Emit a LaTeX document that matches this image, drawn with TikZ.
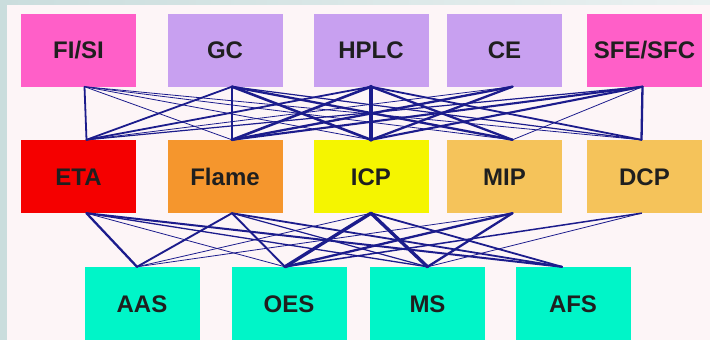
\documentclass[tikz,border=0pt]{standalone}
\usepackage{fontspec}
\setmainfont{Liberation Sans}
\usepackage{xcolor}
\definecolor{pinkbox}{HTML}{FF5FC8}
\definecolor{lavbox}{HTML}{C8A0F0}
\definecolor{redbox}{HTML}{F50000}
\definecolor{orangebox}{HTML}{F5962D}
\definecolor{yellowbox}{HTML}{F5F500}
\definecolor{tanbox}{HTML}{F5C35A}
\definecolor{tealbox}{HTML}{00F5C8}
\definecolor{linkblue}{HTML}{1C1C8C}
\definecolor{panel}{HTML}{FDF5F7}
\definecolor{frameleft}{HTML}{CADDDD}
\definecolor{frameright}{HTML}{EAF1F1}
\usetikzlibrary{positioning,calc}

\begin{document}
\begin{tikzpicture}[x=1pt, y=-1pt,
	box/.style={minimum width=115pt, minimum height=73pt, inner sep=0pt,
		text height=17pt, text depth=0pt,
		font=\fontsize{24}{28}\selectfont\bfseries, text=black!88},
	link/.style={draw=linkblue, line cap=round, line join=round}]
	\clip (0,0) rectangle (710,340);
	\shade[left color=frameleft, right color=frameright] (0,0) rectangle (710,340);
	\fill[panel] (7,5) rectangle (710,340);
	% separation techniques
	\node[box, fill=pinkbox] (fisi) at (78.5,50) {FI/SI};
	\node[box, fill=lavbox] (gc) at (225,50) {GC};
	\node[box, fill=lavbox] (hplc) at (371,50) {HPLC};
	\node[box, fill=lavbox] (ce) at (504.5,50) {CE};
	\node[box, fill=pinkbox] (sfe) at (644.5,50) {SFE/SFC};
	% atomisation / excitation sources
	\node[box, fill=redbox] (eta) at (78.5,176.5) {ETA};
	\node[box, fill=orangebox] (flame) at (225,176.5) {Flame};
	\node[box, fill=yellowbox] (icp) at (371,176.5) {ICP};
	\node[box, fill=tanbox] (mip) at (504.5,176.5) {MIP};
	\node[box, fill=tanbox] (dcp) at (644.5,176.5) {DCP};
	% detectors
	\node[box, fill=tealbox] (aas) at (142,303.5) {AAS};
	\node[box, fill=tealbox] (oes) at (289,303.5) {OES};
	\node[box, fill=tealbox] (ms) at (427.5,303.5) {MS};
	\node[box, fill=tealbox] (afs) at (573,303.5) {AFS};
	% where the links meet the boxes
	\foreach \n/\d in {fisi/6,gc/7,hplc/0,ce/8,sfe/-2}
		\coordinate (\n-s) at ([xshift=\d pt]\n.south);
	\foreach \n/\d in {eta/8,flame/7,icp/0,mip/8,dcp/-3} {
		\coordinate (\n-n) at ([xshift=\d pt]\n.north);
		\coordinate (\n-s) at ([xshift=\d pt]\n.south);
	}
	\foreach \n/\d in {aas/-5,oes/-4,ms/0,afs/-11}
		\coordinate (\n-n) at ([xshift=\d pt]\n.north);
	% hyphenated combinations, line width ~ how common
	\foreach \a/\b/\w in {fisi/eta/1.8, fisi/flame/0.8, fisi/icp/0.8, fisi/mip/0.8, fisi/dcp/0.8,
		gc/eta/1.8, gc/flame/2.6, gc/icp/2.6, gc/mip/2.3, gc/dcp/1.2,
		hplc/eta/1.8, hplc/flame/2.6, hplc/icp/3.6, hplc/mip/2.3, hplc/dcp/1.8,
		ce/eta/0.8, ce/flame/2.3, ce/icp/2.3,
		sfe/eta/1.2, sfe/flame/2.1, sfe/icp/2.1, sfe/mip/0.8, sfe/dcp/2.3}
		\draw[link, line width=\w pt] (\a-s) -- (\b-n);
	\foreach \a/\b/\w in {eta/aas/2.3, eta/oes/0.8, eta/ms/1.3, eta/afs/2,
		flame/aas/1.9, flame/oes/1.9, flame/ms/1.2, flame/afs/1.8,
		icp/aas/0.8, icp/oes/3.4, icp/ms/3.4, icp/afs/1.8,
		mip/aas/0.8, mip/oes/2.3, mip/ms/2.3,
		dcp/oes/1.5, dcp/ms/0.8}
		\draw[link, line width=\w pt] (\a-s) -- (\b-n);
\end{tikzpicture}
\end{document}
